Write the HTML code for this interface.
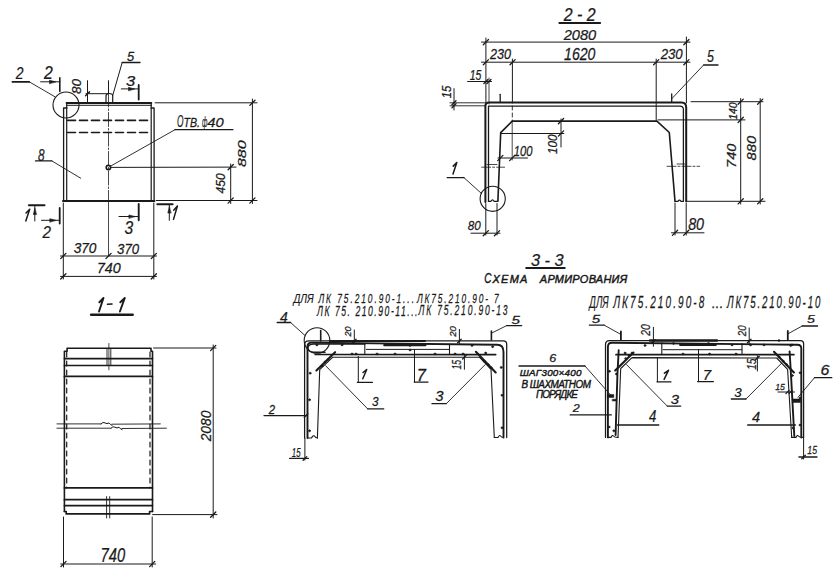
<!DOCTYPE html>
<html><head><meta charset="utf-8"><style>
html,body{margin:0;padding:0;background:#fff;overflow:hidden;}
svg{display:block;}
text{font-family:"Liberation Sans",sans-serif;font-style:italic;fill:#1a1a1a;stroke:#1a1a1a;stroke-width:0.25px;}
</style></head><body>
<svg width="837" height="577" viewBox="0 0 837 577">
<g fill="none" stroke="#1a1a1a" stroke-width="1" stroke-linecap="round" stroke-linejoin="round">
<text transform="translate(15.87,79.1) scale(0.8488,1)" font-size="16.43">2</text>
<line x1="12.4" y1="81.8" x2="29.2" y2="81.8" stroke-width="1.8"/>
<line x1="29.2" y1="81.8" x2="55" y2="96.8" stroke-width="0.9"/>
<circle cx="66" cy="105" r="13" stroke-width="1.1"/>
<text transform="translate(44.08,78.6) scale(0.8908,1)" font-size="17.71">2</text>
<line x1="40.6" y1="81.8" x2="59.8" y2="81.8"/>
<path d="M55.5,81.8 L49.5,80.2 L49.5,83.4 Z" stroke-width="0.6" fill="#1a1a1a"/>
<line x1="59.8" y1="77.7" x2="59.8" y2="91.5" stroke-width="1.6"/>
<text transform="translate(81.38,94.04) rotate(-90) scale(1.1108,1)" font-size="12.25">80</text>
<line x1="87.5" y1="80.7" x2="87.5" y2="102.4"/>
<line x1="86" y1="93.7" x2="108.5" y2="93.7"/>
<line x1="85.5" y1="95.7" x2="89.5" y2="91.7" stroke-width="1.3"/>
<line x1="108.5" y1="80.7" x2="108.5" y2="93"/>
<path d="M106,102.4 L106,96 Q106,93.5 109.3,93.5 Q112.7,93.5 112.7,96 L112.7,102.4" stroke-width="1.2"/>
<text transform="translate(127.08,60.66) scale(0.9503,1)" font-size="13.57">5</text>
<line x1="122.2" y1="62.5" x2="140" y2="62.5" stroke-width="1.3"/>
<line x1="122.2" y1="62.5" x2="112.7" y2="95.5"/>
<text transform="translate(126.09,85.85) scale(1.1205,1)" font-size="14.79">3</text>
<line x1="121.3" y1="88.9" x2="138.7" y2="88.9"/>
<path d="M134.5,88.9 L128.5,87.3 L128.5,90.5 Z" stroke-width="0.6" fill="#1a1a1a"/>
<line x1="138.7" y1="85" x2="138.7" y2="99.5" stroke-width="1.8"/>
<line x1="66.7" y1="103" x2="151.2" y2="103" stroke-width="2.2"/>
<line x1="66.7" y1="105.3" x2="151.2" y2="105.3"/>
<line x1="151.2" y1="103" x2="151.2" y2="105.6" stroke-width="1.2"/>
<polyline points="66.7,103 66.7,201" stroke-width="1.2"/>
<polyline points="66.9,108 63.6,108 63.6,201" stroke-width="1.3"/>
<polyline points="151.2,105.3 151.2,201" stroke-width="1.2"/>
<polyline points="151,108 154.1,108 154.1,201" stroke-width="1.3"/>
<line x1="63" y1="201" x2="154.5" y2="201" stroke-width="2"/>
<line x1="67.5" y1="120.4" x2="150.8" y2="120.4" stroke-width="1.6" stroke-dasharray="8,4"/>
<line x1="67.5" y1="132.5" x2="150.8" y2="132.5" stroke-width="1.6" stroke-dasharray="8,4"/>
<line x1="108.5" y1="93" x2="108.5" y2="201" stroke-width="0.8" stroke-dasharray="14,2,1.5,2"/>
<line x1="108.5" y1="201" x2="108.5" y2="256" stroke-width="0.8"/>
<circle cx="108.4" cy="167.6" r="2.2" stroke-width="1.6"/>
<line x1="111" y1="167.4" x2="236" y2="167.1"/>
<text transform="translate(176.94,126.6) scale(0.5036,1)" font-size="16.57">О</text>
<text transform="translate(183.44,126.6) scale(0.8362,1)" font-size="12.71">ТВ.</text>
<text transform="translate(202.08,126.93) scale(0.4220,1)" font-size="15.08">ф</text>
<text transform="translate(207.23,127.26) scale(1.0846,1)" font-size="13.66">40</text>
<line x1="175" y1="129.7" x2="232.9" y2="129.7" stroke-width="1.3"/>
<line x1="175" y1="129.7" x2="110.3" y2="166.3" stroke-width="0.9"/>
<text transform="translate(37.9,160.83) scale(0.6987,1)" font-size="16.9">8</text>
<line x1="35.5" y1="160.9" x2="51.8" y2="160.9" stroke-width="1.3"/>
<line x1="51.8" y1="160.9" x2="80.7" y2="178.2" stroke-width="0.9"/>
<line x1="155.1" y1="102.8" x2="257" y2="102.8"/>
<line x1="156.4" y1="200.5" x2="257" y2="200.5"/>
<line x1="252.4" y1="99" x2="252.4" y2="203.5"/>
<line x1="249.8" y1="105.4" x2="255" y2="100.2" stroke-width="1.3"/>
<line x1="249.8" y1="203.1" x2="255" y2="197.9" stroke-width="1.3"/>
<line x1="230.7" y1="164" x2="230.7" y2="203.5"/>
<line x1="228.1" y1="169.7" x2="233.3" y2="164.5" stroke-width="1.3"/>
<line x1="228.1" y1="203.1" x2="233.3" y2="197.9" stroke-width="1.3"/>
<text transform="translate(246.19,167) rotate(-90) scale(1.4531,1)" font-size="10.99">880</text>
<text transform="translate(225.38,193.46) rotate(-90) scale(0.9813,1)" font-size="12.25">450</text>
<path d="M25.8,221 L29.7,209.3 L26.04,213.04" stroke-width="1.5"/>
<line x1="28.9" y1="205.2" x2="44.5" y2="205.2" stroke-width="2"/>
<line x1="34.8" y1="206" x2="34.8" y2="221"/>
<path d="M34.8,208.5 L33.3,214.5 L36.3,214.5 Z" stroke-width="0.6" fill="#1a1a1a"/>
<text transform="translate(42.38,237.5) scale(0.9112,1)" font-size="16.71">2</text>
<line x1="41.5" y1="220.3" x2="59.7" y2="220.3"/>
<path d="M55.8,220.3 L49.8,218.7 L49.8,221.9 Z" stroke-width="0.6" fill="#1a1a1a"/>
<line x1="59.7" y1="208" x2="59.7" y2="223.6" stroke-width="1.8"/>
<text transform="translate(124.41,234.03) scale(0.8943,1)" font-size="17.46">3</text>
<line x1="119" y1="216.5" x2="138.7" y2="216.5"/>
<path d="M134.9,216.5 L128.9,214.9 L128.9,218.1 Z" stroke-width="0.6" fill="#1a1a1a"/>
<line x1="138.7" y1="204" x2="138.7" y2="220.3" stroke-width="1.9"/>
<path d="M173.5,219.4 L177.4,206 L173.75,210.29" stroke-width="1.5"/>
<line x1="157.3" y1="204.3" x2="172.6" y2="204.3" stroke-width="2"/>
<line x1="169.3" y1="205" x2="169.3" y2="220.3"/>
<path d="M169.3,207 L167.8,213 L170.8,213 Z" stroke-width="0.6" fill="#1a1a1a"/>
<line x1="63.3" y1="203" x2="63.3" y2="279"/>
<line x1="153.8" y1="203" x2="153.8" y2="279"/>
<line x1="60.5" y1="256" x2="156.5" y2="256"/>
<line x1="60.7" y1="258.6" x2="65.9" y2="253.4" stroke-width="1.3"/>
<line x1="105.9" y1="258.6" x2="111.1" y2="253.4" stroke-width="1.3"/>
<line x1="151.2" y1="258.6" x2="156.4" y2="253.4" stroke-width="1.3"/>
<line x1="60.5" y1="276.4" x2="156.5" y2="276.4"/>
<line x1="60.7" y1="279" x2="65.9" y2="273.8" stroke-width="1.3"/>
<line x1="151.2" y1="279" x2="156.4" y2="273.8" stroke-width="1.3"/>
<text transform="translate(73.66,253.26) scale(0.9825,1)" font-size="13.94">370</text>
<text transform="translate(117.07,253.85) scale(0.8975,1)" font-size="14.79">370</text>
<text transform="translate(96.89,272.95) scale(0.9697,1)" font-size="14.79">740</text>
<text transform="translate(563.68,20.9) scale(0.8949,1)" font-size="17.86">2 - 2</text>
<line x1="559.4" y1="23.1" x2="600.1" y2="23.1" stroke-width="2"/>
<text transform="translate(563.67,39.95) scale(0.9632,1)" font-size="15.21">2080</text>
<line x1="481.5" y1="42.1" x2="690" y2="42.1"/>
<line x1="483.3" y1="44.7" x2="488.5" y2="39.5" stroke-width="1.3"/>
<line x1="683.8" y1="44.7" x2="689" y2="39.5" stroke-width="1.3"/>
<line x1="485.9" y1="38" x2="485.9" y2="103"/>
<line x1="686.4" y1="37" x2="686.4" y2="103"/>
<text transform="translate(490.06,59.26) scale(0.8866,1)" font-size="14.23">230</text>
<text transform="translate(564.05,60.04) scale(0.8570,1)" font-size="16.48">1620</text>
<text transform="translate(660.67,58.55) scale(0.8768,1)" font-size="15.07">230</text>
<line x1="481.5" y1="62.2" x2="690" y2="62.2"/>
<line x1="483.3" y1="64.8" x2="488.5" y2="59.6" stroke-width="1.3"/>
<line x1="510" y1="64.8" x2="515.2" y2="59.6" stroke-width="1.3"/>
<line x1="653.6" y1="64.8" x2="658.8" y2="59.6" stroke-width="1.3"/>
<line x1="683.8" y1="64.8" x2="689" y2="59.6" stroke-width="1.3"/>
<line x1="512.4" y1="59" x2="512.4" y2="103"/>
<line x1="512.3" y1="106" x2="512.3" y2="121" stroke-width="0.9" stroke-dasharray="4,3"/>
<line x1="656.2" y1="59" x2="656.2" y2="121"/>
<text transform="translate(469.74,79.86) scale(0.7321,1)" font-size="14.29">15</text>
<line x1="467.6" y1="81.5" x2="491.5" y2="81.5"/>
<line x1="483.9" y1="83.5" x2="487.9" y2="79.5" stroke-width="1.3"/>
<line x1="487" y1="83.5" x2="491" y2="79.5" stroke-width="1.3"/>
<line x1="489" y1="78" x2="489" y2="104" stroke-width="0.8"/>
<text transform="translate(450.88,98.28) rotate(-90) scale(0.9185,1)" font-size="12.29">15</text>
<line x1="454" y1="88.6" x2="454" y2="110"/>
<line x1="452" y1="104.8" x2="456" y2="100.8" stroke-width="1.3"/>
<line x1="452" y1="107.8" x2="456" y2="103.8" stroke-width="1.3"/>
<line x1="450" y1="102.8" x2="485.4" y2="102.8" stroke-width="0.9"/>
<line x1="450" y1="105.8" x2="485.4" y2="105.8" stroke-width="0.9"/>
<line x1="500.2" y1="94.3" x2="500.2" y2="102" stroke-width="1.3"/>
<path d="M485.4,202 L485.4,106 Q485.4,102.5 489,102.5 L681.6,102.5 Q686.2,102.5 686.2,107.5 L686.2,201.3" stroke-width="2"/>
<path d="M488.5,201 L488.5,106.2 L680,106.2 Q683.4,106.2 683.4,109.6 L683.4,201.3" stroke-width="1.3"/>
<polyline points="497.9,201 500.7,132.6 512.2,121.1 656.9,121.1 669.3,132.5 675,201.3" stroke-width="1.6"/>
<path d="M488.3,201.3 L491,201.3 Q492.5,198.5 494,201.3 L497.9,201.3" stroke-width="1.2"/>
<path d="M675,201.3 L678,201.3 Q679.5,199 681,201.3 L683.4,201.3" stroke-width="1.2"/>
<line x1="500.7" y1="133.5" x2="563.8" y2="133.5"/>
<line x1="561" y1="119" x2="561" y2="147"/>
<line x1="558.4" y1="123.7" x2="563.6" y2="118.5" stroke-width="1.3"/>
<line x1="558.4" y1="136.1" x2="563.6" y2="130.9" stroke-width="1.3"/>
<text transform="translate(556.87,153.89) rotate(-90) scale(0.8824,1)" font-size="13.24">100</text>
<line x1="498" y1="158" x2="527.5" y2="158"/>
<line x1="497.7" y1="160.6" x2="502.9" y2="155.4" stroke-width="1.3"/>
<line x1="509.6" y1="160.6" x2="514.8" y2="155.4" stroke-width="1.3"/>
<line x1="512.2" y1="121" x2="512.2" y2="160" stroke-width="0.8"/>
<text transform="translate(513.72,156.35) scale(0.7568,1)" font-size="14.79">100</text>
<line x1="481.6" y1="167.2" x2="504.6" y2="167.2" stroke-width="0.8" stroke-dasharray="9,2,2,2"/>
<line x1="667" y1="166.3" x2="699.7" y2="166.3" stroke-width="0.8" stroke-dasharray="9,2,2,2"/>
<line x1="487" y1="164.5" x2="497" y2="164.5" stroke-width="0.8"/>
<line x1="677" y1="164" x2="685" y2="164" stroke-width="0.8"/>
<path d="M453,174 L456.8,162.4 L453.23,166.11" stroke-width="1.5"/>
<line x1="447.2" y1="177.7" x2="464" y2="177.7" stroke-width="1.3"/>
<line x1="464" y1="177.7" x2="481.6" y2="193.6" stroke-width="0.9"/>
<circle cx="492.7" cy="198.8" r="12.6" stroke-width="1.1"/>
<text transform="translate(467.71,230.16) scale(0.8697,1)" font-size="13.52">80</text>
<line x1="471" y1="233.2" x2="500" y2="233.2"/>
<line x1="483.2" y1="235.8" x2="488.4" y2="230.6" stroke-width="1.3"/>
<line x1="494.4" y1="235.8" x2="499.6" y2="230.6" stroke-width="1.3"/>
<line x1="485.8" y1="203.5" x2="485.8" y2="235"/>
<line x1="497" y1="203.5" x2="497" y2="235"/>
<text transform="translate(688.14,230.44) scale(0.8784,1)" font-size="16.34">80</text>
<line x1="671.5" y1="232.8" x2="704" y2="232.8"/>
<line x1="672.4" y1="235.4" x2="677.6" y2="230.2" stroke-width="1.3"/>
<line x1="683.6" y1="235.4" x2="688.8" y2="230.2" stroke-width="1.3"/>
<line x1="675" y1="203" x2="675" y2="235"/>
<line x1="686.2" y1="203" x2="686.2" y2="235"/>
<line x1="691" y1="101.7" x2="763" y2="101.7"/>
<line x1="658" y1="119.9" x2="745" y2="119.9"/>
<line x1="686" y1="201.3" x2="765" y2="201.3"/>
<line x1="740.7" y1="98.5" x2="740.7" y2="204"/>
<line x1="760.2" y1="98.5" x2="760.2" y2="204"/>
<line x1="738.1" y1="104.3" x2="743.3" y2="99.1" stroke-width="1.3"/>
<line x1="738.1" y1="122.5" x2="743.3" y2="117.3" stroke-width="1.3"/>
<line x1="738.1" y1="203.9" x2="743.3" y2="198.7" stroke-width="1.3"/>
<line x1="757.6" y1="104.3" x2="762.8" y2="99.1" stroke-width="1.3"/>
<line x1="757.6" y1="203.9" x2="762.8" y2="198.7" stroke-width="1.3"/>
<text transform="translate(736.69,119.86) rotate(-90) scale(0.9520,1)" font-size="10.99">140</text>
<text transform="translate(735.88,167.93) rotate(-90) scale(1.2140,1)" font-size="11.97">740</text>
<text transform="translate(756.18,160.47) rotate(-90) scale(1.2169,1)" font-size="12.11">880</text>
<text transform="translate(707.09,62.34) scale(0.7509,1)" font-size="16.43">5</text>
<line x1="703.6" y1="65" x2="718" y2="65" stroke-width="1.3"/>
<line x1="703.6" y1="65" x2="671.7" y2="98.8" stroke-width="0.9"/>
<line x1="671.7" y1="94" x2="671.7" y2="102" stroke-width="1.3"/>
<path d="M99,311.5 L103.5,297.9 L99.33,302.25" stroke-width="1.9"/>
<path d="M119.9,311.5 L124.8,297.9 L120.3,302.25" stroke-width="1.9"/>
<line x1="107.5" y1="304.3" x2="112" y2="304" stroke-width="1.6"/>
<line x1="91.1" y1="314.7" x2="132.7" y2="314.7" stroke-width="2.4"/>
<polyline points="64.4,511.5 64.4,351.3 67.1,351.3 67.1,348.2 151,348.2 151,351.3 152.5,351.3 152.5,511.5" stroke-width="1.6"/>
<line x1="64.4" y1="358.6" x2="152.5" y2="358.6" stroke-width="1.7"/>
<line x1="64.4" y1="365.5" x2="152.5" y2="365.5" stroke-width="1.7"/>
<line x1="64.4" y1="376.4" x2="152.5" y2="376.4" stroke-width="1.7"/>
<line x1="66.7" y1="352" x2="66.7" y2="488" stroke-width="1.2" stroke-dasharray="5,4"/>
<line x1="150" y1="352" x2="150" y2="488" stroke-width="1.2" stroke-dasharray="5,4"/>
<line x1="108.9" y1="343.5" x2="108.9" y2="369.8" stroke-width="0.8"/>
<line x1="107" y1="349" x2="107" y2="365" stroke-width="0.9"/>
<line x1="110.8" y1="349" x2="110.8" y2="365" stroke-width="0.9"/>
<line x1="57" y1="423.9" x2="101" y2="423.9" stroke-width="0.9"/>
<path d="M101,423.9 q2,-2.5 4,-1 q2,1.5 4,0 q2,2.5 3,2.5"/>
<line x1="112" y1="424.2" x2="160.3" y2="423.9" stroke-width="0.9"/>
<line x1="57" y1="428.2" x2="111" y2="428.2" stroke-width="0.9"/>
<path d="M111,428.2 q2,-2.5 4,-1 q2,1.5 4,0 q2,2.5 3,2.5"/>
<line x1="122" y1="428.5" x2="166.4" y2="428.2" stroke-width="0.9"/>
<line x1="64.4" y1="487.9" x2="152.5" y2="487.9" stroke-width="1.7"/>
<line x1="64.4" y1="499.7" x2="152.5" y2="499.7" stroke-width="1.7"/>
<line x1="64.4" y1="505.6" x2="152.5" y2="505.6" stroke-width="1.7"/>
<polyline points="64.4,511.5 66.2,511.5 66.2,513.9 149.6,513.9 149.6,511.5 152.5,511.5" stroke-width="1.7"/>
<line x1="106.6" y1="496.6" x2="106.6" y2="518" stroke-width="0.9"/>
<line x1="109.7" y1="496.6" x2="109.7" y2="518" stroke-width="0.9"/>
<line x1="153.6" y1="348" x2="216" y2="348"/>
<line x1="152.6" y1="514.6" x2="217" y2="514.6"/>
<line x1="213.2" y1="345" x2="213.2" y2="518"/>
<line x1="210.6" y1="350.6" x2="215.8" y2="345.4" stroke-width="1.3"/>
<line x1="210.6" y1="517.2" x2="215.8" y2="512" stroke-width="1.3"/>
<text transform="translate(210.85,441.33) rotate(-90) scale(0.8906,1)" font-size="15.49">2080</text>
<line x1="63.5" y1="517" x2="63.5" y2="567"/>
<line x1="152.2" y1="517" x2="152.2" y2="567"/>
<line x1="60.7" y1="564" x2="155.7" y2="564"/>
<line x1="60.9" y1="566.6" x2="66.1" y2="561.4" stroke-width="1.3"/>
<line x1="149.6" y1="566.6" x2="154.8" y2="561.4" stroke-width="1.3"/>
<text transform="translate(100.45,562.31) scale(0.7610,1)" font-size="19.44">740</text>
<text transform="translate(530.89,265.63) scale(0.9835,1)" font-size="16.62">3 - 3</text>
<line x1="526.3" y1="268" x2="564.6" y2="268" stroke-width="2.2"/>
<text transform="translate(484.25,283.2) scale(0.6604,1)" font-size="15.14" style="letter-spacing:0.000px;stroke-width:0.45px">С</text>
<text transform="translate(492.56,283.2) scale(1.0000,1)" font-size="11" style="letter-spacing:1.218px;stroke-width:0.45px">ХЕМА</text>
<text transform="translate(539.85,283.2) scale(1.0000,1)" font-size="11" style="letter-spacing:0.221px;stroke-width:0.45px">АРМИРОВАНИЯ</text>
<text transform="translate(293.48,303.2) scale(0.7292,1)" font-size="13.43" style="letter-spacing:0.000px;stroke-width:0.2px">ДЛЯ</text>
<text transform="translate(318.46,303.2) scale(0.6200,1)" font-size="13.43" style="letter-spacing:3.152px;stroke-width:0.25px">ЛК 75.210.90-1...</text>
<text transform="translate(416.96,303) scale(0.6200,1)" font-size="13.43" style="letter-spacing:3.031px;stroke-width:0.25px">ЛК75.210.90- 7</text>
<text transform="translate(317.07,315.5) scale(0.6200,1)" font-size="13.86" style="letter-spacing:2.473px;stroke-width:0.25px">ЛК 75. 210.90-11...</text>
<text transform="translate(418.47,314.6) scale(0.6200,1)" font-size="13.71" style="letter-spacing:2.981px;stroke-width:0.25px">ЛК 75.210.90-13</text>
<text transform="translate(279.93,321.5) scale(0.9187,1)" font-size="15.22">4</text>
<line x1="277.2" y1="322.5" x2="290.6" y2="322.5" stroke-width="1.3"/>
<line x1="290.6" y1="322.5" x2="305.4" y2="335.9" stroke-width="0.9"/>
<circle cx="317" cy="340.5" r="12.8" stroke-width="1.1"/>
<line x1="320.7" y1="330.5" x2="320.7" y2="341" stroke-width="1.6"/>
<path d="M304.6,438 L304.6,345 Q304.6,340.9 308.8,340.9 L503.3,340.9 Q506.7,340.9 506.7,344.3 L506.7,437.5" stroke-width="1.25"/>
<path d="M307.5,438 L307.5,346.5 Q307.5,342.6 311.4,342.6 L497.3,344.75 Q503.5,344.75 503.5,352 L503.5,437.5" stroke-width="1.9"/>
<polyline points="317.4,438 319.7,369.7 332.8,357.2 479.4,357.2 491,369.3 494.3,437.5" stroke-width="1.1"/>
<path d="M307.5,438 L311.5,438 Q313,435 314.5,436 Q315.5,438 317.4,438" stroke-width="1.1"/>
<path d="M494.3,437.5 L498,437.5 Q499.5,434.5 500.5,436 Q501.5,437.5 503.5,437.5" stroke-width="1.1"/>
<path d="M364.8,344 L313.5,344 Q307.8,344.5 307.8,348 Q308.5,352.2 314,352.2 L325,352.2" stroke-width="1.5"/>
<line x1="315.2" y1="354.5" x2="495.7" y2="354.6" stroke-width="1.7"/>
<line x1="364.8" y1="344" x2="364.8" y2="354.5" stroke-width="1.1"/>
<line x1="449.5" y1="344.8" x2="449.5" y2="354.5" stroke-width="1.1"/>
<line x1="366.4" y1="349.4" x2="449.5" y2="349.4"/>
<line x1="384.3" y1="345.2" x2="425.4" y2="345.2" stroke-width="2.2"/>
<line x1="330" y1="341" x2="425" y2="341" stroke-width="2"/>
<line x1="316.4" y1="370.5" x2="335.1" y2="352.2" stroke-width="2.1"/>
<line x1="475.9" y1="351.8" x2="495.7" y2="372.4" stroke-width="2.1"/>
<circle cx="316.8" cy="344.9" r="1" stroke-width="0.6" fill="#1a1a1a"/>
<circle cx="342" cy="344.9" r="1" stroke-width="0.6" fill="#1a1a1a"/>
<circle cx="352" cy="353.9" r="1" stroke-width="0.6" fill="#1a1a1a"/>
<circle cx="356" cy="353.9" r="1" stroke-width="0.6" fill="#1a1a1a"/>
<circle cx="377" cy="353.9" r="1" stroke-width="0.6" fill="#1a1a1a"/>
<circle cx="395" cy="353.9" r="1" stroke-width="0.6" fill="#1a1a1a"/>
<circle cx="410" cy="345.5" r="1" stroke-width="0.6" fill="#1a1a1a"/>
<circle cx="410" cy="350" r="1" stroke-width="0.6" fill="#1a1a1a"/>
<circle cx="435" cy="353.9" r="1" stroke-width="0.6" fill="#1a1a1a"/>
<circle cx="455" cy="353.9" r="1" stroke-width="0.6" fill="#1a1a1a"/>
<circle cx="463" cy="353.9" r="1" stroke-width="0.6" fill="#1a1a1a"/>
<circle cx="472" cy="345.5" r="1" stroke-width="0.6" fill="#1a1a1a"/>
<circle cx="492.6" cy="346.7" r="1" stroke-width="0.6" fill="#1a1a1a"/>
<circle cx="485.6" cy="353" r="1" stroke-width="0.6" fill="#1a1a1a"/>
<circle cx="501.2" cy="367.4" r="1" stroke-width="0.6" fill="#1a1a1a"/>
<circle cx="310.1" cy="373.2" r="1" stroke-width="0.6" fill="#1a1a1a"/>
<circle cx="309.5" cy="399.8" r="1" stroke-width="0.6" fill="#1a1a1a"/>
<circle cx="309.5" cy="430.8" r="1" stroke-width="0.6" fill="#1a1a1a"/>
<circle cx="502" cy="395.3" r="1" stroke-width="0.6" fill="#1a1a1a"/>
<circle cx="502" cy="427.8" r="1" stroke-width="0.6" fill="#1a1a1a"/>
<circle cx="322" cy="366" r="1" stroke-width="0.6" fill="#1a1a1a"/>
<circle cx="325" cy="362" r="1" stroke-width="0.6" fill="#1a1a1a"/>
<circle cx="328" cy="359.5" r="1" stroke-width="0.6" fill="#1a1a1a"/>
<circle cx="484" cy="361" r="1" stroke-width="0.6" fill="#1a1a1a"/>
<circle cx="488" cy="364.5" r="1" stroke-width="0.6" fill="#1a1a1a"/>
<circle cx="491" cy="367.5" r="1" stroke-width="0.6" fill="#1a1a1a"/>
<text transform="translate(350.91,336.45) rotate(-90) scale(0.9841,1)" font-size="9.15">20</text>
<line x1="354.3" y1="330" x2="354.3" y2="344"/>
<line x1="352.5" y1="342.8" x2="356.1" y2="339.2" stroke-width="1.3"/>
<text transform="translate(456,336.85) rotate(-90) scale(0.9869,1)" font-size="9.86">20</text>
<line x1="459.4" y1="329.4" x2="459.4" y2="344.4"/>
<line x1="457.6" y1="342.8" x2="461.2" y2="339.2" stroke-width="1.3"/>
<text transform="translate(461.08,369.52) rotate(-90) scale(0.7351,1)" font-size="11.86">15</text>
<line x1="464.4" y1="355" x2="464.4" y2="369.3"/>
<line x1="462.6" y1="359" x2="466.2" y2="355.4" stroke-width="1.3"/>
<text transform="translate(511.62,323.89) scale(1.4131,1)" font-size="10.71">5</text>
<line x1="506.7" y1="325.6" x2="521.7" y2="325.6" stroke-width="1.3"/>
<line x1="506.7" y1="325.6" x2="491.6" y2="333.1" stroke-width="0.9"/>
<line x1="491.4" y1="331" x2="491.4" y2="340.1" stroke-width="1.6"/>
<path d="M362.8,378.8 L366.7,369.5 L363.04,372.48" stroke-width="1.5"/>
<line x1="357.4" y1="382.4" x2="372.4" y2="382.4" stroke-width="1.3"/>
<line x1="358.3" y1="356.4" x2="358.3" y2="382.4"/>
<text transform="translate(416.87,381) scale(1.0324,1)" font-size="15.94">7</text>
<line x1="414.3" y1="382.1" x2="428" y2="382.1" stroke-width="1.3"/>
<line x1="414.5" y1="349.4" x2="414.5" y2="382.1"/>
<text transform="translate(372.1,405.57) scale(0.9016,1)" font-size="13.1">3</text>
<line x1="367.7" y1="408.9" x2="383.7" y2="408.9" stroke-width="1.3"/>
<line x1="367.7" y1="408.9" x2="325.7" y2="365.8" stroke-width="0.9"/>
<text transform="translate(435.13,400.86) scale(1.0342,1)" font-size="14.37">3</text>
<line x1="432" y1="403.7" x2="446.3" y2="403.7" stroke-width="1.3"/>
<line x1="446.3" y1="403.7" x2="485.2" y2="364.6" stroke-width="0.9"/>
<text transform="translate(268.66,413.5) scale(0.9369,1)" font-size="12.14">2</text>
<line x1="264" y1="415.6" x2="306.8" y2="415.6" stroke-width="1.3"/>
<line x1="304.2" y1="417.4" x2="307.8" y2="413.8" stroke-width="1.3"/>
<text transform="translate(291.8,457.08) scale(0.6498,1)" font-size="12.14">15</text>
<line x1="289.6" y1="458.4" x2="308.4" y2="458.4" stroke-width="1.3"/>
<line x1="304.9" y1="438" x2="304.9" y2="460"/>
<line x1="303.1" y1="460.2" x2="306.7" y2="456.6" stroke-width="1.3"/>
<text transform="translate(589.34,308.3) scale(0.5780,1)" font-size="16.14" style="letter-spacing:0.000px;stroke-width:0.2px">ДЛЯ</text>
<text transform="translate(613.15,308.3) scale(0.6200,1)" font-size="16.14" style="letter-spacing:3.366px;stroke-width:0.25px">ЛК75.210.90-8</text>
<text transform="translate(711.9,307.9) scale(0.8000,1)" font-size="15.57" style="letter-spacing:0.596px;stroke-width:0.35px">...</text>
<text transform="translate(726.93,307.9) scale(0.6200,1)" font-size="15.57" style="letter-spacing:3.002px;stroke-width:0.25px">ЛК75.210.90-10</text>
<path d="M605.5,437.4 L605.5,344.5 Q605.5,340.5 609.5,340.5 L800.5,340.5 Q803.6,340.5 803.6,343.6 L803.6,437.5" stroke-width="1.25"/>
<path d="M607.9,437.4 L607.9,347 Q607.9,342.8 612,342.8 L797.5,344.75 Q801.3,344.75 801.3,348.5 L801.3,437.5" stroke-width="1.9"/>
<polyline points="618,437.4 620.7,368.5 632,357.6 776.7,358 787.6,369.3 791.7,437.4" stroke-width="1.1"/>
<path d="M607.9,437.4 L611,437.4 Q612.5,434.5 613.5,436 Q614.5,437.4 618,437.4" stroke-width="1.1"/>
<path d="M791.7,437.4 L796,437.4 Q797.5,434.5 798.5,436 Q799.5,437.4 803.5,437.4" stroke-width="1.1"/>
<line x1="650" y1="340.5" x2="717" y2="340.5" stroke-width="2.4"/>
<line x1="680.2" y1="344.9" x2="715.7" y2="344.9" stroke-width="2.2"/>
<line x1="663" y1="349.7" x2="742" y2="349.7"/>
<line x1="661.8" y1="342.8" x2="661.8" y2="354.5" stroke-width="1.1"/>
<line x1="742" y1="343.5" x2="742" y2="354.5" stroke-width="1.1"/>
<line x1="616" y1="354.7" x2="793.9" y2="354.7" stroke-width="1.7"/>
<path d="M618.7,350.2 L617.4,375 L615.6,435" stroke-width="1.9"/>
<path d="M789.6,351.4 L791,375 L794.3,436" stroke-width="1.9"/>
<line x1="615.2" y1="370.5" x2="633.5" y2="352.5" stroke-width="2.1"/>
<line x1="774" y1="351.8" x2="793.9" y2="372.4" stroke-width="2.1"/>
<circle cx="625" cy="353" r="1" stroke-width="0.6" fill="#1a1a1a"/>
<circle cx="625.7" cy="358.5" r="1" stroke-width="0.6" fill="#1a1a1a"/>
<circle cx="609.4" cy="371.3" r="1" stroke-width="0.6" fill="#1a1a1a"/>
<circle cx="616.4" cy="374" r="1" stroke-width="0.6" fill="#1a1a1a"/>
<circle cx="645" cy="345.5" r="1" stroke-width="0.6" fill="#1a1a1a"/>
<circle cx="673.5" cy="343.4" r="1" stroke-width="0.6" fill="#1a1a1a"/>
<circle cx="708.5" cy="343.4" r="1" stroke-width="0.6" fill="#1a1a1a"/>
<circle cx="732" cy="344.9" r="1" stroke-width="0.6" fill="#1a1a1a"/>
<circle cx="750.5" cy="344.9" r="1" stroke-width="0.6" fill="#1a1a1a"/>
<circle cx="764" cy="344.9" r="1" stroke-width="0.6" fill="#1a1a1a"/>
<circle cx="792" cy="344.9" r="1" stroke-width="0.6" fill="#1a1a1a"/>
<circle cx="683" cy="354" r="1" stroke-width="0.6" fill="#1a1a1a"/>
<circle cx="709.5" cy="354" r="1" stroke-width="0.6" fill="#1a1a1a"/>
<circle cx="736" cy="354" r="1" stroke-width="0.6" fill="#1a1a1a"/>
<circle cx="779" cy="340.5" r="1" stroke-width="0.6" fill="#1a1a1a"/>
<circle cx="790.7" cy="345.5" r="1" stroke-width="0.6" fill="#1a1a1a"/>
<circle cx="800.1" cy="372.8" r="1" stroke-width="0.6" fill="#1a1a1a"/>
<circle cx="792.3" cy="375.6" r="1" stroke-width="0.6" fill="#1a1a1a"/>
<circle cx="609" cy="427" r="1" stroke-width="0.6" fill="#1a1a1a"/>
<circle cx="613.8" cy="430.8" r="1" stroke-width="0.6" fill="#1a1a1a"/>
<circle cx="800" cy="398" r="1" stroke-width="0.6" fill="#1a1a1a"/>
<circle cx="800" cy="425" r="1" stroke-width="0.6" fill="#1a1a1a"/>
<circle cx="793" cy="428" r="1" stroke-width="0.6" fill="#1a1a1a"/>
<circle cx="779" cy="357" r="1" stroke-width="0.6" fill="#1a1a1a"/>
<circle cx="783" cy="361" r="1" stroke-width="0.6" fill="#1a1a1a"/>
<circle cx="786.5" cy="364.5" r="1" stroke-width="0.6" fill="#1a1a1a"/>
<circle cx="629" cy="355.5" r="1" stroke-width="0.6" fill="#1a1a1a"/>
<circle cx="632" cy="353" r="1" stroke-width="0.6" fill="#1a1a1a"/>
<text transform="translate(591.82,322.79) scale(1.3945,1)" font-size="10.86">5</text>
<line x1="589.3" y1="325.1" x2="604.1" y2="325.1" stroke-width="1.3"/>
<line x1="604.1" y1="325.1" x2="619.9" y2="333.9" stroke-width="0.9"/>
<line x1="620.9" y1="331.5" x2="620.9" y2="339.6" stroke-width="1.8"/>
<text transform="translate(807.04,323.29) scale(1.3084,1)" font-size="10.86">5</text>
<line x1="802.2" y1="326" x2="817.6" y2="326" stroke-width="1.3"/>
<line x1="802.2" y1="326" x2="788.2" y2="333.7" stroke-width="0.9"/>
<line x1="787.8" y1="331" x2="787.8" y2="340" stroke-width="1.8"/>
<text transform="translate(649.88,335.75) rotate(-90) scale(0.8553,1)" font-size="12.11">20</text>
<line x1="653.4" y1="327.2" x2="653.4" y2="346.3"/>
<line x1="651.6" y1="343.3" x2="655.2" y2="339.7" stroke-width="1.3"/>
<text transform="translate(745.88,336.15) rotate(-90) scale(0.8400,1)" font-size="11.69">20</text>
<line x1="749.2" y1="328" x2="749.2" y2="344"/>
<line x1="747.4" y1="342.8" x2="751" y2="339.2" stroke-width="1.3"/>
<text transform="translate(755.88,369.85) rotate(-90) scale(0.8588,1)" font-size="11.86">15</text>
<line x1="757.4" y1="355.7" x2="757.4" y2="371"/>
<line x1="755.6" y1="359.8" x2="759.2" y2="356.2" stroke-width="1.3"/>
<path d="M664.1,379.4 L668.5,370.3 L664.42,373.21" stroke-width="1.5"/>
<line x1="657" y1="381.8" x2="671" y2="381.8" stroke-width="1.3"/>
<line x1="657.4" y1="357.6" x2="657.4" y2="381.8"/>
<text transform="translate(702.7,380) scale(1.0188,1)" font-size="14.93">7</text>
<line x1="697.6" y1="381.6" x2="713.4" y2="381.6" stroke-width="1.3"/>
<line x1="698.5" y1="349.7" x2="698.5" y2="381.6"/>
<text transform="translate(670.63,403.57) scale(1.1592,1)" font-size="12.82">3</text>
<line x1="667.3" y1="406.1" x2="680.7" y2="406.1" stroke-width="1.3"/>
<line x1="667.3" y1="406.1" x2="626.5" y2="364.6" stroke-width="0.9"/>
<text transform="translate(734.37,397.16) scale(0.9861,1)" font-size="13.52">3</text>
<line x1="731.3" y1="399" x2="746" y2="399" stroke-width="1.3"/>
<line x1="746" y1="399" x2="781.8" y2="363" stroke-width="0.9"/>
<text transform="translate(648.93,421.9) scale(0.8358,1)" font-size="15.8">4</text>
<line x1="617.4" y1="425" x2="658.8" y2="425" stroke-width="1.3"/>
<text transform="translate(751.93,422) scale(1.0577,1)" font-size="13.77">4</text>
<line x1="747.7" y1="425" x2="795.4" y2="425" stroke-width="1.3"/>
<text transform="translate(572.86,411.5) scale(1.1817,1)" font-size="10.71">2</text>
<line x1="570.2" y1="414.9" x2="611.3" y2="414.9" stroke-width="1.3"/>
<text transform="translate(549.31,362.39) scale(1.1469,1)" font-size="10.99">6</text>
<line x1="519" y1="366" x2="585" y2="366" stroke-width="1.3"/>
<line x1="585" y1="366" x2="611" y2="395.5" stroke-width="0.9"/>
<text transform="translate(519.7,376.4) scale(1.0000,1)" font-size="9.86" style="letter-spacing:0.245px;stroke-width:0.45px">ШАГ300×400</text>
<text transform="translate(521.4,387.7) scale(0.9000,1)" font-size="11" style="letter-spacing:-0.566px;stroke-width:0.45px">В ШАХМАТНОМ</text>
<text transform="translate(536.1,398) scale(0.9000,1)" font-size="11" style="letter-spacing:-1.060px;stroke-width:0.45px">ПОРЯДКЕ</text>
<text transform="translate(820.62,375.36) scale(1.1360,1)" font-size="14.08">6</text>
<line x1="814.5" y1="377.7" x2="831.8" y2="377.7" stroke-width="1.3"/>
<line x1="814.5" y1="377.7" x2="798" y2="397.3" stroke-width="0.9"/>
<path d="M792.8,399 h7.8 v3.5 h-7.8 Z" stroke-width="0.5" fill="#1a1a1a"/>
<path d="M607.7,394.4 h6.1 v3 h-6.1 Z M612.5,399.2 h3.7 v1.8 h-3.7 Z" stroke-width="0.5" fill="#1a1a1a"/>
<text transform="translate(775.28,390.2) scale(0.8842,1)" font-size="9.86">15</text>
<line x1="778" y1="392" x2="794.5" y2="392"/>
<line x1="785.9" y1="393.6" x2="789.1" y2="390.4" stroke-width="1.3"/>
<line x1="788.9" y1="393.6" x2="792.1" y2="390.4" stroke-width="1.3"/>
<text transform="translate(807.28,454.39) scale(0.7822,1)" font-size="11.14">15</text>
<line x1="798.9" y1="457" x2="817" y2="457" stroke-width="1.3"/>
<line x1="803.6" y1="437.5" x2="803.6" y2="459"/>
<line x1="801.8" y1="458.8" x2="805.4" y2="455.2" stroke-width="1.3"/>
</g>
</svg>
</body></html>
